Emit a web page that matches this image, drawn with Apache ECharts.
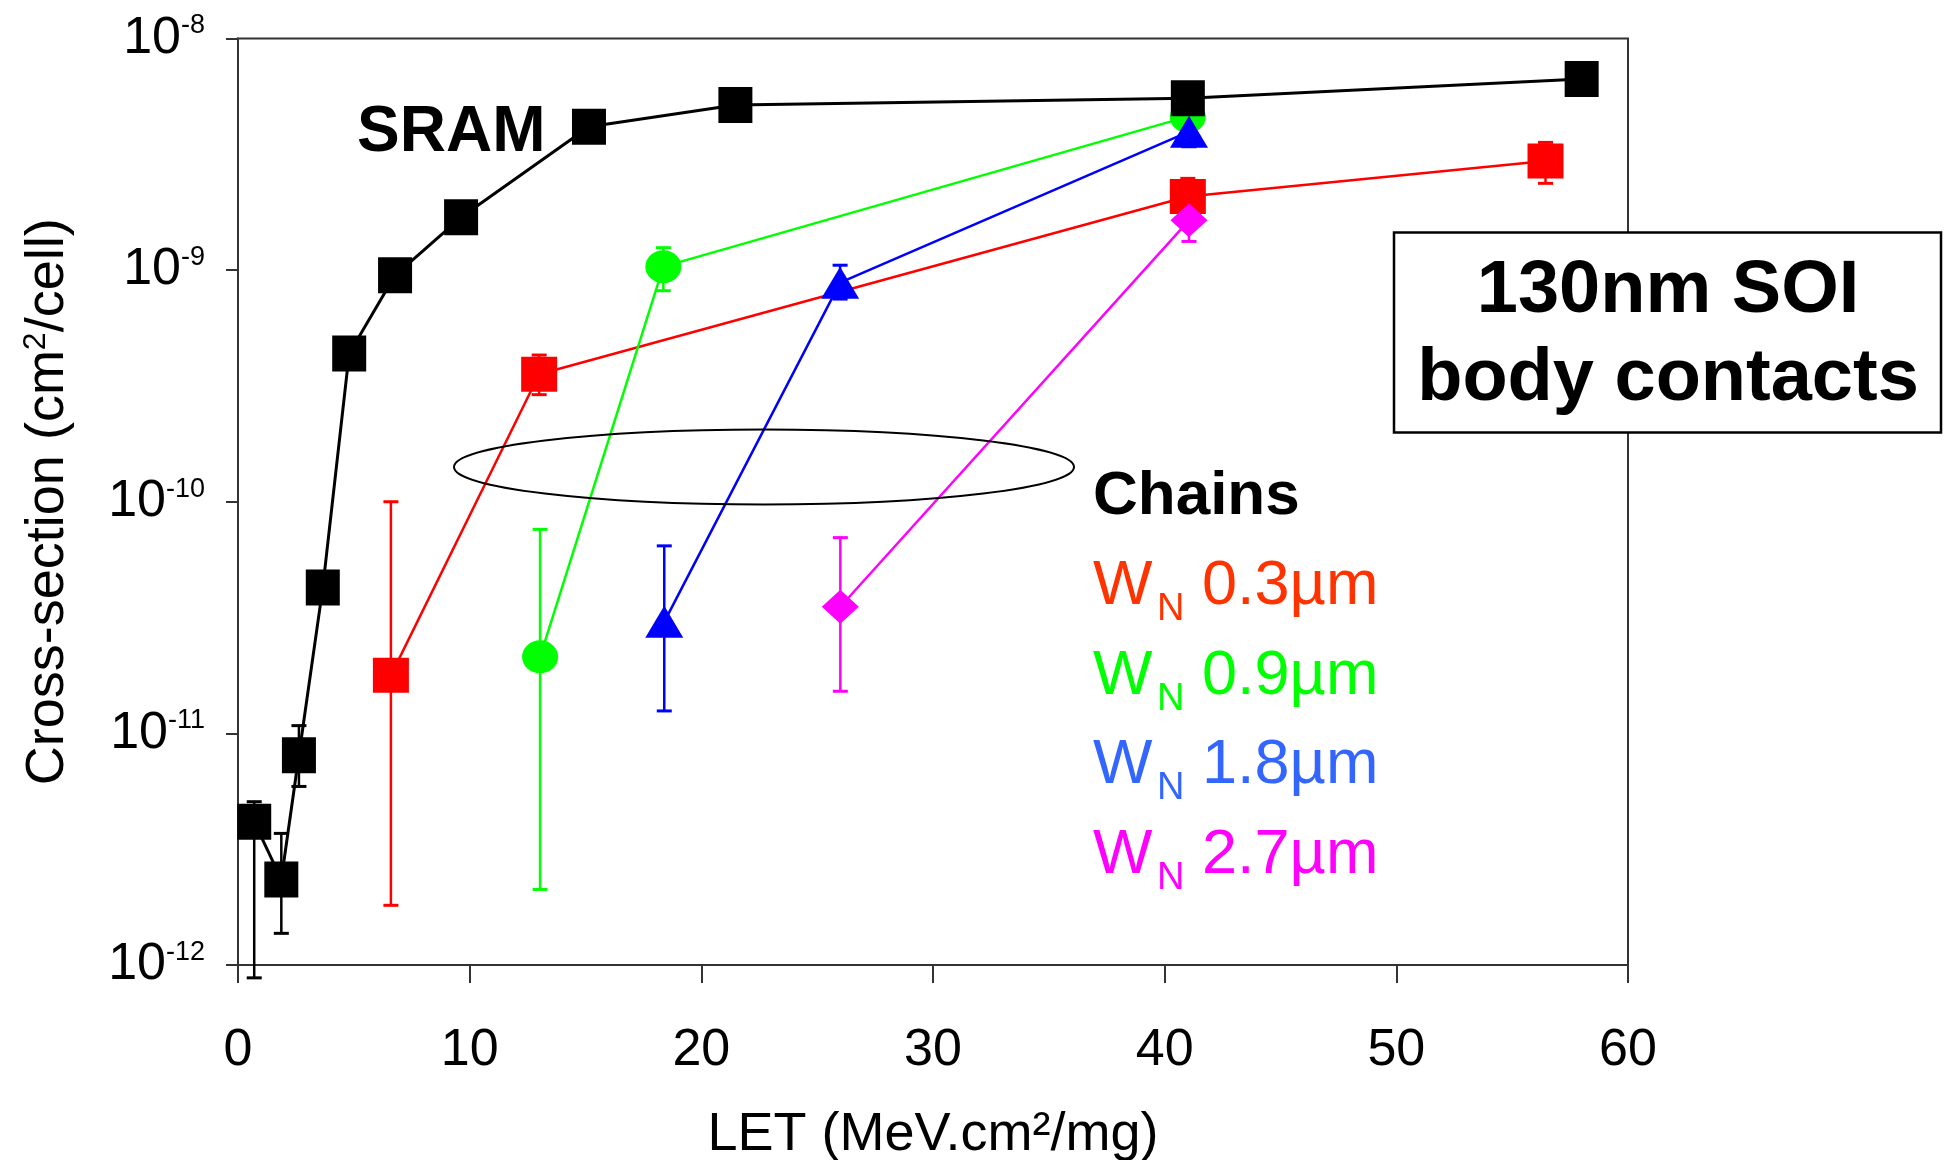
<!DOCTYPE html>
<html>
<head>
<meta charset="utf-8">
<script src="https://cdn.jsdelivr.net/npm/echarts@6/dist/echarts.min.js"></script>
<style>
  html, body { margin: 0; padding: 0; background: #fff; }
  #chart { width: 1950px; height: 1160px; }
</style>
</head>
<body>
<div id="chart"></div>
<script>
// LET (MeV.cm²/mg) vs. cross-section (cm²/cell); error bars as [low, high], null = none shown
const sramLET   = [0.7, 1.87, 2.63, 3.66, 4.8, 6.78, 9.63, 15.15, 21.47, 41.0, 58.0];
const sramSigma = [4.15e-12, 2.34e-12, 8.05e-12, 4.26e-11, 4.37e-10, 9.5e-10, 1.69e-9, 4.16e-9, 5.16e-9, 5.52e-9, 6.68e-9];
const sramLow   = [0.88e-12, 1.37e-12, 5.9e-12, null, null, null, null, null, null, null, null];
const sramHigh  = [5.07e-12, 3.7e-12, 1.08e-11, null, null, null, null, null, null, null, null];

const wn03LET   = [6.6, 13.0, 41.0, 56.44];
const wn03Sigma = [1.78e-11, 3.55e-10, 2.08e-9, 2.96e-9];
const wn03Low   = [1.81e-12, 2.9e-10, 1.74e-9, 2.37e-9];
const wn03High  = [1.0e-10, 4.3e-10, 2.49e-9, 3.56e-9];

const wn09LET   = [13.04, 18.36, 41.0];
const wn09Sigma = [2.14e-11, 1.035e-9, 4.6e-9];
const wn09Low   = [2.12e-12, 8.15e-10, 4.1e-9];
const wn09High  = [7.6e-11, 1.25e-9, 5.1e-9];

const wn18LET   = [18.4, 25.99, 41.05];
const wn18Sigma = [3.03e-11, 8.83e-10, 3.96e-9];
const wn18Low   = [1.25e-11, 7.5e-10, 3.41e-9];
const wn18High  = [6.45e-11, 1.05e-9, 4.6e-9];

const wn27LET   = [26.0, 41.05];
const wn27Sigma = [3.52e-11, 1.64e-9];
const wn27Low   = [1.52e-11, 1.33e-9];
const wn27High  = [7.0e-11, 2.0e-9];

const xTicks = [0, 10, 20, 30, 40, 50, 60];
const legendLabels = ['0.3µm', '0.9µm', '1.8µm', '2.7µm'];
const legendColors = ['#ff3300', '#00ff00', '#3366ff', '#ff00ff'];

const FONT = "'Liberation Sans', Arial, Helvetica, sans-serif";

function points(xs, ys) {
  return xs.map((x, i) => [x, ys[i]]);
}
function errData(xs, lo, hi) {
  const out = [];
  xs.forEach((x, i) => { if (lo[i] != null && hi[i] != null) out.push([x, lo[i], hi[i]]); });
  return out;
}
function errSeries(xs, lo, hi, color, z) {
  return {
    type: 'custom',
    z: z,
    silent: true,
    clip: false,
    data: errData(xs, lo, hi),
    encode: { x: 0, y: [1, 2] },
    renderItem: function (params, api) {
      const x = api.value(0);
      const pLo = api.coord([x, api.value(1)]);
      const pHi = api.coord([x, api.value(2)]);
      const w = 7.5;
      const st = { stroke: color, lineWidth: 2.5 };
      return {
        type: 'group',
        children: [
          { type: 'line', shape: { x1: pLo[0], y1: pLo[1], x2: pHi[0], y2: pHi[1] }, style: st },
          { type: 'line', shape: { x1: pLo[0] - w, y1: pLo[1], x2: pLo[0] + w, y2: pLo[1] }, style: { stroke: color, lineWidth: 3 } },
          { type: 'line', shape: { x1: pHi[0] - w, y1: pHi[1], x2: pHi[0] + w, y2: pHi[1] }, style: { stroke: color, lineWidth: 3 } }
        ]
      };
    }
  };
}
function lineSeries(name, xs, ys, color, symbol, size, width, z) {
  return {
    type: 'line',
    name: name,
    z: z,
    data: points(xs, ys),
    symbol: symbol,
    symbolSize: size,
    showSymbol: true,
    clip: false,
    lineStyle: { color: color, width: width },
    itemStyle: { color: color },
    emphasis: { disabled: true },
    animation: false
  };
}

const chart = echarts.init(document.getElementById('chart'), null, { renderer: 'canvas' });

const legendGraphics = [];
const legendBaseline = [608, 698, 787, 877];
legendLabels.forEach((lab, i) => {
  const b = legendBaseline[i];
  const c = legendColors[i];
  legendGraphics.push(
    { type: 'text', left: 1093, top: b - 0.3465 * 63 - 31.5, style: { text: 'W', font: '63px ' + FONT, fill: c } },
    { type: 'text', left: 1157, top: b + 15 - 0.3465 * 38 - 19, style: { text: 'N', font: '38px ' + FONT, fill: c } },
    { type: 'text', left: 1202, top: b - 0.3465 * 63 - 31.5, style: { text: lab, font: '63px ' + FONT, fill: c } }
  );
});

const option = {
  backgroundColor: '#ffffff',
  animation: false,
  textStyle: { fontFamily: FONT },
  grid: {
    left: 238, right: 322, top: 38.5, bottom: 195,
    outerBoundsMode: 'none',
    containLabel: false,
    show: true, borderColor: '#333', borderWidth: 2, backgroundColor: 'transparent'
  },
  xAxis: {
    type: 'value', min: 0, max: 60, interval: 10,
    axisLine: { show: true, lineStyle: { color: '#333', width: 2 } },
    axisTick: { show: true, inside: false, length: 18, lineStyle: { color: '#333', width: 2 } },
    splitLine: { show: false },
    axisLabel: {
      margin: 60, fontSize: 52, color: '#000', fontFamily: FONT,
      customValues: xTicks
    },
    name: 'LET (MeV.cm²/mg)',
    nameLocation: 'middle',
    nameGap: 143,
    nameTextStyle: { fontSize: 54, color: '#000', fontFamily: FONT }
  },
  yAxis: {
    type: 'log', logBase: 10, min: 1e-12, max: 1e-8,
    axisLine: { show: true, lineStyle: { color: '#333', width: 2 } },
    axisTick: { show: true, inside: false, length: 12, lineStyle: { color: '#333', width: 2 } },
    splitLine: { show: false },
    minorTick: { show: false },
    axisLabel: {
      margin: 33, color: '#000',
      formatter: function (v) {
        const e = Math.round(Math.log10(v));
        return '{b|10}{s|' + e + '}';
      },
      rich: {
        b: { fontSize: 52, fontFamily: FONT, color: '#000', lineHeight: 52 },
        s: { fontSize: 27, fontFamily: FONT, color: '#000', verticalAlign: 'top', lineHeight: 30 }
      }
    },
    name: '{a|Cross-section (cm}{s|2}{a|/cell)}',
    nameLocation: 'middle',
    nameRotate: 90,
    nameGap: 162,
    nameTextStyle: {
      rich: {
        a: { fontSize: 54, fontFamily: FONT, color: '#000', lineHeight: 56 },
        s: { fontSize: 32, fontFamily: FONT, color: '#000', verticalAlign: 'top', lineHeight: 32 }
      }
    }
  },
  series: [
    errSeries(wn03LET, wn03Low, wn03High, '#ff0000', 2),
    errSeries(wn09LET, wn09Low, wn09High, '#00ff00', 2),
    errSeries(wn18LET, wn18Low, wn18High, '#0000ff', 2),
    errSeries(wn27LET, wn27Low, wn27High, '#ff00ff', 2),
    errSeries(sramLET, sramLow, sramHigh, '#000000', 2),
    lineSeries('WN 0.3µm', wn03LET, wn03Sigma, '#ff0000', 'rect', [36, 35], 2.5, 3),
    lineSeries('WN 0.9µm', wn09LET, wn09Sigma, '#00ff00', 'circle', [36, 33], 2.5, 3),
    lineSeries('WN 1.8µm', wn18LET, wn18Sigma, '#0000ff', 'triangle', [38, 32], 2.5, 3),
    lineSeries('WN 2.7µm', wn27LET, wn27Sigma, '#ff00ff', 'diamond', [37, 34], 2.5, 3),
    lineSeries('SRAM', sramLET, sramSigma, '#000000', 'rect', [34, 36], 3, 4)
  ],
  graphic: [
    // group annotation around the chain curves
    { type: 'ellipse', z: 10, shape: { cx: 764, cy: 467, rx: 310, ry: 37.5 },
      style: { fill: 'none', stroke: '#000', lineWidth: 2 } },
    { type: 'text', z: 10, left: 357, top: 133 - 32,
      style: { text: 'SRAM', font: 'bold 64px ' + FONT, fill: '#000' } },
    { type: 'text', z: 10, left: 1093, top: 518 - 0.3465 * 62 - 31,
      style: { text: 'Chains', font: 'bold 62px ' + FONT, fill: '#000' } },
    // technology box
    { type: 'rect', z: 20, shape: { x: 1394, y: 232.5, width: 547, height: 200 },
      style: { fill: '#fff', stroke: '#000', lineWidth: 2.5 } },
    { type: 'text', z: 21, x: 1668, y: 317 - 0.3465 * 74,
      style: { text: '130nm SOI', font: 'bold 74px ' + FONT, fill: '#000', align: 'center', verticalAlign: 'middle' } },
    { type: 'text', z: 21, x: 1668, y: 405 - 0.3465 * 74,
      style: { text: 'body contacts', font: 'bold 74px ' + FONT, fill: '#000', align: 'center', verticalAlign: 'middle' } }
  ].concat(legendGraphics.map(g => Object.assign({ z: 10 }, g)))
};

chart.setOption(option);
</script>
</body>
</html>
